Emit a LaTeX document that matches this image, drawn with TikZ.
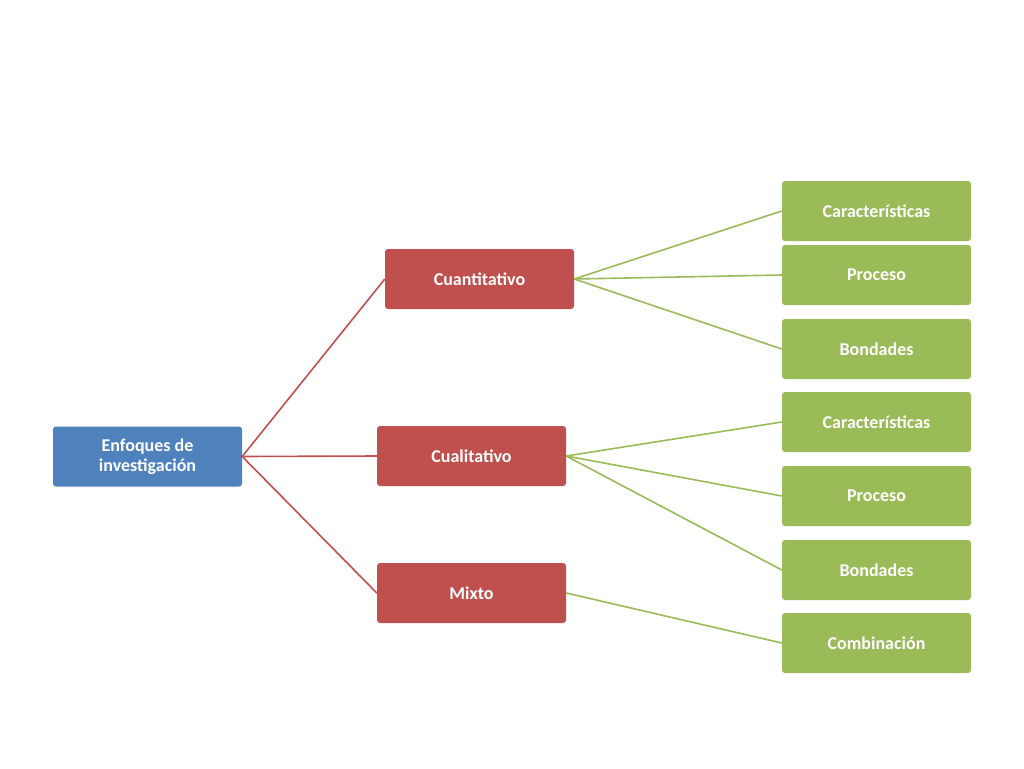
\documentclass[tikz,border=0pt]{standalone}
\usepackage{fontspec}
\setmainfont{Carlito}
\begin{document}
\begin{tikzpicture}[x=1pt,y=-1pt,
 box/.style={rectangle,rounded corners=3pt,minimum width=189pt,minimum height=60pt,text=white,font=\fontsize{18}{20}\selectfont\bfseries,align=center,inner sep=2pt},
 blue/.style={box,fill=blueF},
 red/.style={box,fill=redF},
 green/.style={box,fill=greenF},
 rl/.style={draw=redF,line width=1.6pt},
 gl/.style={draw=greenF,line width=1.6pt}]
\definecolor{blueF}{HTML}{4F81BD}
\definecolor{redF}{HTML}{C0504D}
\definecolor{greenF}{HTML}{9BBB59}
\useasboundingbox (0,0) rectangle (1024,768);
\node[blue] (e) at (147.5,456.5) {Enfoques de\\investigación};
\node[red] (c1) at (479.5,279) {Cuantitativo};
\node[red] (c2) at (471.5,456) {Cualitativo};
\node[red] (c3) at (471.5,593) {Mixto};
\node[green] (g1) at (876.5,211) {Características};
\node[green] (g2) at (876.5,275) {Proceso};
\node[green] (g3) at (876.5,349) {Bondades};
\node[green] (g4) at (876.5,422) {Características};
\node[green] (g5) at (876.5,496) {Proceso};
\node[green] (g6) at (876.5,570) {Bondades};
\node[green] (g7) at (876.5,643) {Combinación};
\foreach \t in {c1,c2,c3} \draw[rl] (e.east) -- (\t.west);
\foreach \t in {g1,g2,g3} \draw[gl] (c1.east) -- (\t.west);
\foreach \t in {g4,g5,g6} \draw[gl] (c2.east) -- (\t.west);
\draw[gl] (c3.east) -- (g7.west);
\end{tikzpicture}
\end{document}
